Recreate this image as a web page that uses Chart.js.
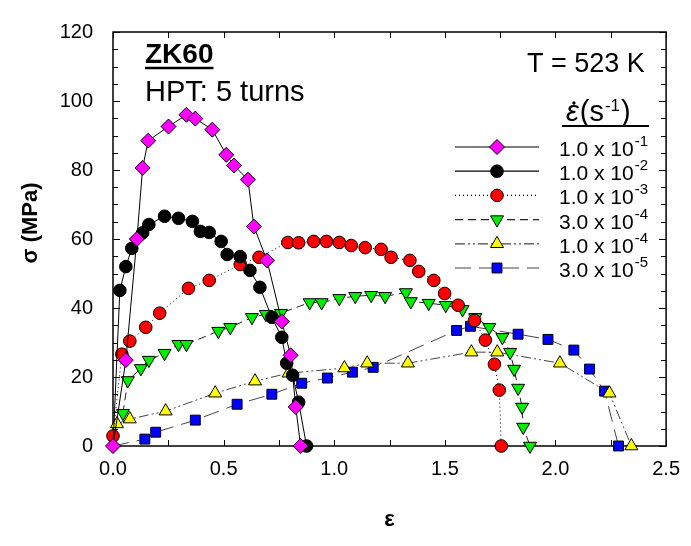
<!DOCTYPE html>
<html><head><meta charset="utf-8">
<script src="https://cdn.jsdelivr.net/npm/chart.js@4.4.0/dist/chart.umd.min.js"></script>
<style>html,body{margin:0;padding:0;background:#fff;}</style>
</head><body>
<canvas id="c" width="691" height="546"></canvas>
<script>
// ---- data ----
const rateMantissa = ['1.0','1.0','1.0','3.0','1.0','3.0'];
const rateExponent = ['-1','-2','-3','-4','-4','-5'];
const xTickValues = [0, 0.5, 1.0, 1.5, 2.0, 2.5];
const yTickValues = [0, 20, 40, 60, 80, 100, 120];

const strain1 = [0, 0.058, 0.108, 0.134, 0.159, 0.251, 0.332, 0.372, 0.449, 0.512, 0.547, 0.610, 0.637, 0.696, 0.763, 0.803, 0.826, 0.848];
const stress1 = [0, 24.9, 60, 80.6, 88.5, 92.6, 96, 94.9, 91.7, 84.4, 81.3, 77.2, 63.6, 53.8, 36.1, 26.3, 11.3, 0];

const strain2 = [0, 0.031, 0.058, 0.085, 0.134, 0.162, 0.233, 0.296, 0.359, 0.395, 0.435, 0.489, 0.516, 0.575, 0.619, 0.664, 0.718, 0.763, 0.785, 0.812, 0.839, 0.875];
const stress2 = [0, 45.1, 52, 57.3, 61.8, 64.2, 66.6, 66, 65.1, 62.2, 61.9, 59.3, 55.5, 54.9, 50.9, 46, 37.3, 31.5, 24, 20.5, 12.7, 0];

const strain3 = [0, 0.04, 0.076, 0.148, 0.211, 0.341, 0.435, 0.575, 0.660, 0.790, 0.839, 0.907, 0.965, 1.023, 1.077, 1.14, 1.212, 1.257, 1.342, 1.382, 1.45, 1.499, 1.56, 1.634, 1.683, 1.724, 1.746, 1.755];
const stress3 = [2.9, 26.6, 30.4, 34.4, 38.5, 45.7, 48, 52.6, 54.7, 59, 58.9, 59.3, 59.3, 59, 58.1, 57.5, 57, 54.7, 53.8, 50.6, 48, 44.2, 40.8, 36.4, 30.7, 23.7, 16.2, 0];

const strain4 = [0.045, 0.067, 0.126, 0.162, 0.233, 0.296, 0.332, 0.476, 0.53, 0.628, 0.691, 0.759, 0.889, 0.943, 1.023, 1.095, 1.167, 1.23, 1.324, 1.346, 1.427, 1.504, 1.58, 1.638, 1.701, 1.76, 1.795, 1.813, 1.831, 1.849, 1.854, 1.885];
const stress4 = [9.5, 19, 22.5, 24.9, 26.9, 29.5, 29.5, 33.3, 34.4, 37.3, 38.2, 38.5, 41.6, 41.6, 42.8, 43.4, 43.7, 43.4, 44.5, 41.9, 41.4, 40.8, 39.6, 37.3, 34.4, 31.5, 27.2, 22.3, 16.8, 11.3, 5.5, 0];

const strain5 = [0.018, 0.076, 0.238, 0.462, 0.642, 0.794, 1.046, 1.149, 1.333, 1.62, 1.737, 2.02, 2.244, 2.343];
const stress5 = [6.4, 7.8, 10.1, 15.3, 18.8, 21.1, 22.6, 24, 24, 27.2, 27.2, 24, 15.3, 0];

const strain6 = [0, 0.144, 0.193, 0.372, 0.561, 0.718, 0.853, 0.969, 1.082, 1.176, 1.553, 1.616, 1.831, 1.966, 2.083, 2.154, 2.222, 2.285];
const stress6 = [0, 2, 4, 7.5, 12.1, 15, 18.2, 19.7, 21.4, 22.8, 33.5, 34.7, 32.4, 30.9, 27.8, 22.3, 15.9, 0];

// ---- build ----
const FONT = '"Liberation Sans", Arial, Helvetica, sans-serif';
const pts = (xs, ys) => xs.map((x, i) => ({x: x, y: ys[i]}));
const styles = [
  {fill:'#FF00FF', shape:'rectRot', r:7.5, rot:0, dash:[], line:'#000'},
  {fill:'#000000', shape:'circle', r:6.3, rot:0, dash:[], line:'#000'},
  {fill:'#FF0000', shape:'circle', r:6.3, rot:0, dash:[1,3], line:'#000'},
  {fill:'#00EE00', shape:'triangle', r:7.5, rot:180, dash:[8,5], line:'#222'},
  {fill:'#FFFF00', shape:'triangle', r:7.5, rot:0, dash:[10,3,2,3,2,3], line:'#444'},
  {fill:'#0000FF', shape:'rect', r:7, rot:0, dash:[16,8], line:'#444'}
];
const series = [[strain1,stress1],[strain2,stress2],[strain3,stress3],[strain4,stress4],[strain5,stress5],[strain6,stress6]];
const hideOrigin = [false, true, false, false, false, true];

const datasets = series.map((s, i) => ({
  label: rateMantissa[i] + ' x 10' + rateExponent[i],
  data: pts(s[0], s[1]),
  showLine: true,
  borderColor: styles[i].line,
  borderWidth: 1,
  borderDash: styles[i].dash,
  backgroundColor: styles[i].fill,
  pointStyle: styles[i].shape,
  pointRotation: styles[i].rot,
  pointRadius: hideOrigin[i] ? (c => c.dataIndex === 0 ? 0 : styles[i].r) : styles[i].r,
  pointBackgroundColor: styles[i].fill,
  pointBorderColor: '#000',
  pointBorderWidth: 1,
  tension: 0,
  clip: false
}));

const decor = {
  id: 'decor',
  beforeDatasetsDraw(chart) {
    const {ctx, chartArea: a, scales: {x, y}} = chart;
    ctx.save();
    ctx.strokeStyle = '#000';
    ctx.lineWidth = 1;
    ctx.beginPath();
    for (let v = 0; v <= 2.5 + 1e-9; v += 0.25) {
      const px = Math.round(x.getPixelForValue(v)) + 0.5;
      ctx.moveTo(px, a.bottom); ctx.lineTo(px, a.bottom - 6);
      ctx.moveTo(px, a.top); ctx.lineTo(px, a.top + 6);
    }
    for (let v = 0; v <= 120; v += 5) {
      const py = Math.round(y.getPixelForValue(v)) + 0.5;
      const len = v % 20 === 0 ? 7 : 5;
      ctx.moveTo(a.left, py); ctx.lineTo(a.left + len, py);
      ctx.moveTo(a.right, py); ctx.lineTo(a.right - len, py);
    }
    ctx.stroke();
    ctx.lineWidth = 1.5;
    ctx.strokeRect(a.left, a.top, a.right - a.left, a.bottom - a.top);
    ctx.restore();
  },
  afterDraw(chart) {
    const ctx = chart.ctx;
    ctx.save();
    ctx.fillStyle = '#000';
    ctx.strokeStyle = '#000';
    ctx.textBaseline = 'alphabetic';
    ctx.textAlign = 'left';
    // annotations
    ctx.font = 'bold 28px ' + FONT;
    ctx.fillText('ZK60', 145, 63);
    const wz = ctx.measureText('ZK60').width;
    ctx.lineWidth = 2.5;
    ctx.beginPath(); ctx.moveTo(145, 68); ctx.lineTo(145 + wz, 68); ctx.stroke();
    ctx.font = '29px ' + FONT;
    ctx.fillText('HPT: 5 turns', 145, 101);
    ctx.font = '27px ' + FONT;
    ctx.fillText('T = 523 K', 527, 72);
    // y axis title
    ctx.save();
    ctx.translate(37, 223);
    ctx.rotate(-Math.PI / 2);
    ctx.textAlign = 'center';
    ctx.font = 'bold 22px ' + FONT;
    ctx.fillText('\u03C3 (MPa)', 0, 0);
    ctx.restore();
    // legend header
    let hx = 566, hy = 121;
    ctx.font = 'italic 29px ' + FONT;
    ctx.fillText('\u03B5', hx, hy);
    const we = ctx.measureText('\u03B5').width;
    ctx.beginPath(); ctx.arc(hx + we * 0.62, hy - 18, 1.7, 0, Math.PI * 2); ctx.fill();
    hx += we + 1;
    ctx.font = '29px ' + FONT;
    ctx.fillText('(s', hx, hy);
    hx += ctx.measureText('(s').width + 1;
    ctx.font = '17px ' + FONT;
    ctx.fillText('-1', hx, hy - 10);
    hx += ctx.measureText('-1').width + 1;
    ctx.font = '29px ' + FONT;
    ctx.fillText(')', hx, hy);
    ctx.lineWidth = 2;
    ctx.beginPath(); ctx.moveTo(562, 126); ctx.lineTo(649, 126); ctx.stroke();
    // legend rows
    chart.data.datasets.forEach((ds, i) => {
      const ly = 147 + i * 24.2;
      ctx.save();
      ctx.strokeStyle = ds.borderColor;
      ctx.lineWidth = 1.2;
      ctx.setLineDash(ds.borderDash);
      ctx.beginPath(); ctx.moveTo(455, ly); ctx.lineTo(539, ly); ctx.stroke();
      ctx.setLineDash([]);
      ctx.fillStyle = ds.pointBackgroundColor;
      ctx.strokeStyle = '#000';
      ctx.lineWidth = 1;
      Chart.helpers.drawPoint(ctx, {pointStyle: ds.pointStyle, rotation: ds.pointRotation, radius: styles[i].r, borderWidth: 1}, 497, ly);
      ctx.restore();
      ctx.font = '21px ' + FONT;
      const base = rateMantissa[i] + ' x 10';
      ctx.fillText(base, 559, ly + 9);
      const wb = ctx.measureText(base).width;
      ctx.font = '15px ' + FONT;
      ctx.fillText(rateExponent[i], 559 + wb + 1, ly - 1);
    });
    ctx.restore();
  }
};

new Chart(document.getElementById('c'), {
  type: 'scatter',
  data: {datasets: datasets},
  options: {
    responsive: false,
    animation: false,
    events: [],
    layout: {padding: {left: 0, right: 21, top: 31, bottom: 0}},
    plugins: {legend: {display: false}, tooltip: {enabled: false}},
    scales: {
      x: {
        type: 'linear', min: 0, max: 2.5,
        afterFit: s => { s.height = 100; },
        afterBuildTicks: s => { s.ticks = xTickValues.map(v => ({value: v})); },
        grid: {display: false, drawTicks: false},
        border: {display: false},
        ticks: {font: {family: FONT, size: 20}, color: '#000', padding: 11, callback: v => v.toFixed(1), maxRotation: 0},
        title: {display: true, text: '\u03B5', font: {family: FONT, size: 22, weight: 'bold'}, color: '#000', padding: {top: 0, bottom: 13}}
      },
      y: {
        type: 'linear', min: 0, max: 120,
        afterFit: s => { s.width = 113; },
        afterBuildTicks: s => { s.ticks = yTickValues.map(v => ({value: v})); },
        grid: {display: false, drawTicks: false},
        border: {display: false},
        ticks: {font: {family: FONT, size: 20}, color: '#000', padding: 20}
      }
    }
  },
  plugins: [decor]
});
</script>
</body></html>
